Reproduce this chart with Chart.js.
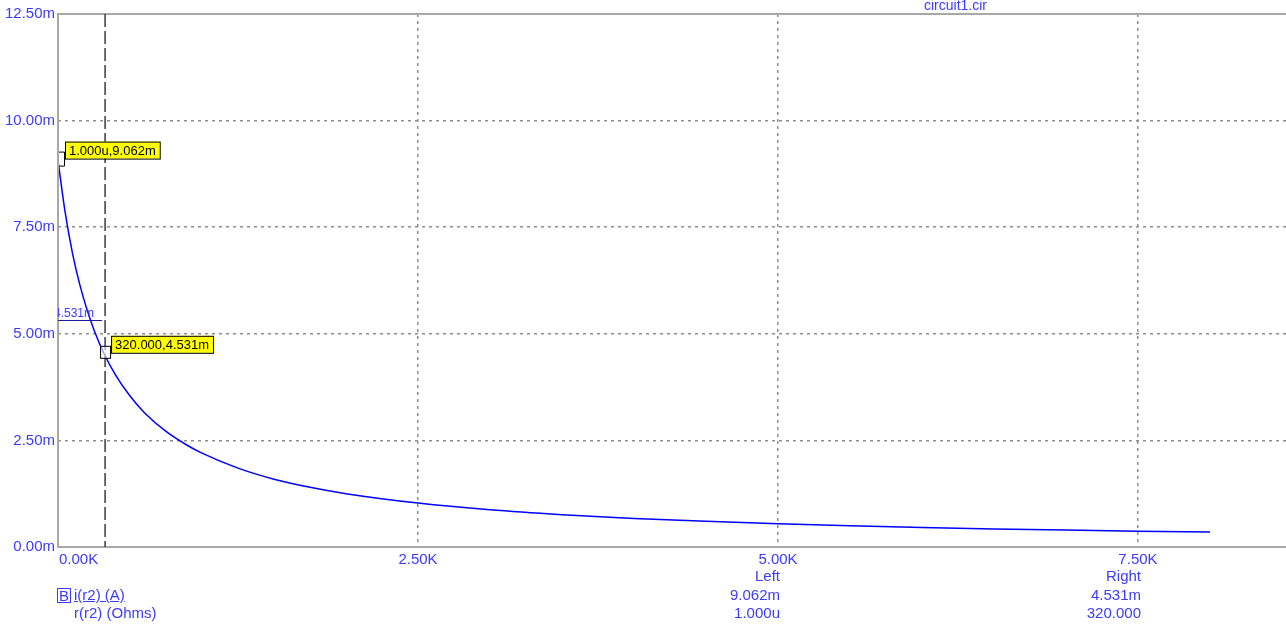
<!DOCTYPE html>
<html>
<head>
<meta charset="utf-8">
<script src="https://cdn.jsdelivr.net/npm/chart.js@4"></script>
<style>
  body { margin: 0; background: #fff; overflow: hidden; }
  #wrap { position: relative; width: 1286px; height: 627px; font-family: "Liberation Sans", Arial, sans-serif; }
  .t { position: absolute; color: #3b3bff; font-size: 15px; line-height: 15px; white-space: nowrap; }
  .r { text-align: right; }
</style>
</head>
<body>
<div id="wrap">
  <canvas id="plot" width="1286" height="627"></canvas>
  <div class="t" style="left:924px;top:-2px;font-size:14px;line-height:14px;">circuit1.cir</div>
  <div class="t" style="left:57px;top:588px;width:12px;height:13px;line-height:13px;border:1px solid #3b3bff;text-align:center;">B</div>
  <div class="t" style="left:74px;top:587px;text-decoration:underline;">i(r2) (A)</div>
  <div class="t" style="left:74px;top:605px;">r(r2) (Ohms)</div>
  <div class="t r" style="right:506px;top:568px;">Left</div>
  <div class="t r" style="right:506px;top:587px;">9.062m</div>
  <div class="t r" style="right:506px;top:605px;">1.000u</div>
  <div class="t r" style="right:145px;top:568px;">Right</div>
  <div class="t r" style="right:145px;top:587px;">4.531m</div>
  <div class="t r" style="right:145px;top:605px;">320.000</div>
</div>
<script>
// r(r2) in ohms, i(r2) in mA
var resistance = [0, 50, 100, 150, 200, 250, 320, 400, 500, 600, 750, 900, 1000, 1250, 1500, 1750,
  2000, 2500, 3000, 3500, 4000, 4500, 5000, 5500, 6000, 6500, 7000, 7500, 8000];
var current = [9.062, 7.84, 6.90, 6.17, 5.58, 5.09, 4.531, 4.03, 3.54, 3.15, 2.71, 2.38, 2.20, 1.85, 1.59, 1.40,
  1.25, 1.03, 0.873, 0.759, 0.671, 0.602, 0.545, 0.498, 0.459, 0.425, 0.396, 0.371, 0.349];
var xTicks = [0, 2500, 5000, 7500];
var yTicks = [0, 2.5, 5, 7.5, 10, 12.5];
var xMax = 8528;
var yMax = 12.5;

// cursors: left at 1u ohm, right at 320 ohm
var leftCursor = { r: 0.000001, i: 9.062, label: "1.000u,9.062m" };
var rightCursor = { r: 320, i: 4.531, label: "320.000,4.531m" };

var blue = "#3b3bff";

var points = resistance.map(function (r, k) { return { x: r, y: current[k] }; });

function gridColor(c) {
  var v = c.tick ? c.tick.value : null;
  if (v === 0 || v === xMax || v === yMax) return "rgba(0,0,0,0)";
  return "#8e8e8e";
}

var overlay = {
  id: "overlay",
  afterDraw: function (chart) {
    var ctx = chart.ctx, a = chart.chartArea;
    var xs = chart.scales.x, ys = chart.scales.y;
    ctx.save();

    // x tick labels (first one left aligned like the original)
    ctx.font = "15px 'Liberation Sans', Arial";
    ctx.fillStyle = blue;
    ctx.textBaseline = "top";
    xTicks.forEach(function (v, k) {
      ctx.textAlign = k === 0 ? "left" : "center";
      var px = xs.getPixelForValue(v);
      ctx.fillText((v / 1000).toFixed(2) + "K", k === 0 ? px + 1 : px, a.bottom + 5);
    });

    // frame
    ctx.strokeStyle = "#a8a8a8";
    ctx.lineWidth = 2;
    ctx.beginPath();
    ctx.moveTo(a.right, a.top); ctx.lineTo(a.left, a.top);
    ctx.lineTo(a.left, a.bottom); ctx.lineTo(a.right, a.bottom);
    ctx.stroke();

    // right cursor line
    var cx = xs.getPixelForValue(rightCursor.r) + 1;
    ctx.strokeStyle = "#3c3c3c";
    ctx.lineWidth = 1.5;
    ctx.setLineDash([13, 4]);
    ctx.beginPath();
    ctx.moveTo(cx, a.top); ctx.lineTo(cx, a.bottom);
    ctx.stroke();
    ctx.setLineDash([]);

    // horizontal tag for the right cursor value
    ctx.strokeStyle = "#1a1a9a";
    ctx.lineWidth = 1.2;
    ctx.beginPath();
    ctx.moveTo(a.left, 320.5); ctx.lineTo(cx - 3, 320.5);
    ctx.stroke();
    ctx.save();
    ctx.beginPath();
    ctx.rect(a.left, a.top, a.width, a.height);
    ctx.clip();
    ctx.font = "12px 'Liberation Sans', Arial";
    ctx.fillStyle = blue;
    ctx.textAlign = "left";
    ctx.textBaseline = "alphabetic";
    ctx.fillText("4.531m", a.left - 4, 317);
    ctx.restore();

    // markers
    var lx = xs.getPixelForValue(leftCursor.r), ly = ys.getPixelForValue(leftCursor.i);
    var rx = cx, ry = ys.getPixelForValue(rightCursor.i);
    ctx.strokeStyle = "#000";
    ctx.lineWidth = 1;
    ctx.beginPath();
    ctx.moveTo(lx + 1, ly - 8.5); ctx.lineTo(lx + 6.5, ly - 8.5);
    ctx.lineTo(lx + 6.5, ly + 5.5); ctx.lineTo(lx + 1, ly + 5.5);
    ctx.stroke();
    ctx.fillStyle = "rgba(255,255,255,0.6)";
    ctx.fillRect(rx - 4.5, ry - 7.5, 10, 12);
    ctx.strokeRect(rx - 4.5, ry - 7.5, 10, 12);

    // yellow value boxes
    ctx.font = "13px 'Liberation Sans', Arial";
    ctx.textBaseline = "middle";
    ctx.textAlign = "left";
    function box(x, y, txt) {
      var w = ctx.measureText(txt).width + 8;
      ctx.fillStyle = "#ffff00";
      ctx.fillRect(x, y, w, 17);
      ctx.strokeStyle = "#000";
      ctx.strokeRect(x + 0.5, y + 0.5, w, 17);
      ctx.fillStyle = "#000";
      ctx.fillText(txt, x + 4, y + 9.5);
    }
    box(lx + 7, ly - 19, leftCursor.label);
    box(rx + 6, ry - 18, rightCursor.label);

    ctx.restore();
  }
};

new Chart(document.getElementById("plot"), {
  type: "scatter",
  data: {
    datasets: [{
      label: "i(r2) (A)",
      data: points,
      showLine: true,
      borderColor: "#0000ff",
      borderWidth: 1.5,
      pointRadius: 0,
      cubicInterpolationMode: "monotone"
    }]
  },
  options: {
    responsive: false,
    animation: false,
    layout: { padding: { top: 14, right: 0, left: 0, bottom: 0 } },
    plugins: { legend: { display: false }, tooltip: { enabled: false } },
    scales: {
      x: {
        type: "linear",
        min: 0,
        max: xMax,
        afterBuildTicks: function (s) { s.ticks = xTicks.map(function (v) { return { value: v }; }); },
        afterFit: function (s) { s.height = 80; },
        ticks: { display: false },
        grid: { color: gridColor, lineWidth: 1.5, drawTicks: false },
        border: { display: false, dash: [3, 4] }
      },
      y: {
        type: "linear",
        min: 0,
        max: yMax,
        afterBuildTicks: function (s) { s.ticks = yTicks.map(function (v) { return { value: v }; }); },
        afterFit: function (s) { s.width = 58; },
        ticks: {
          color: blue,
          padding: 3,
          font: { family: "'Liberation Sans', Arial", size: 15 },
          callback: function (v) { return v.toFixed(2) + "m"; }
        },
        grid: { color: gridColor, lineWidth: 1.5, drawTicks: false },
        border: { display: false, dash: [3, 4] }
      }
    }
  },
  plugins: [overlay]
});
</script>
</body>
</html>
